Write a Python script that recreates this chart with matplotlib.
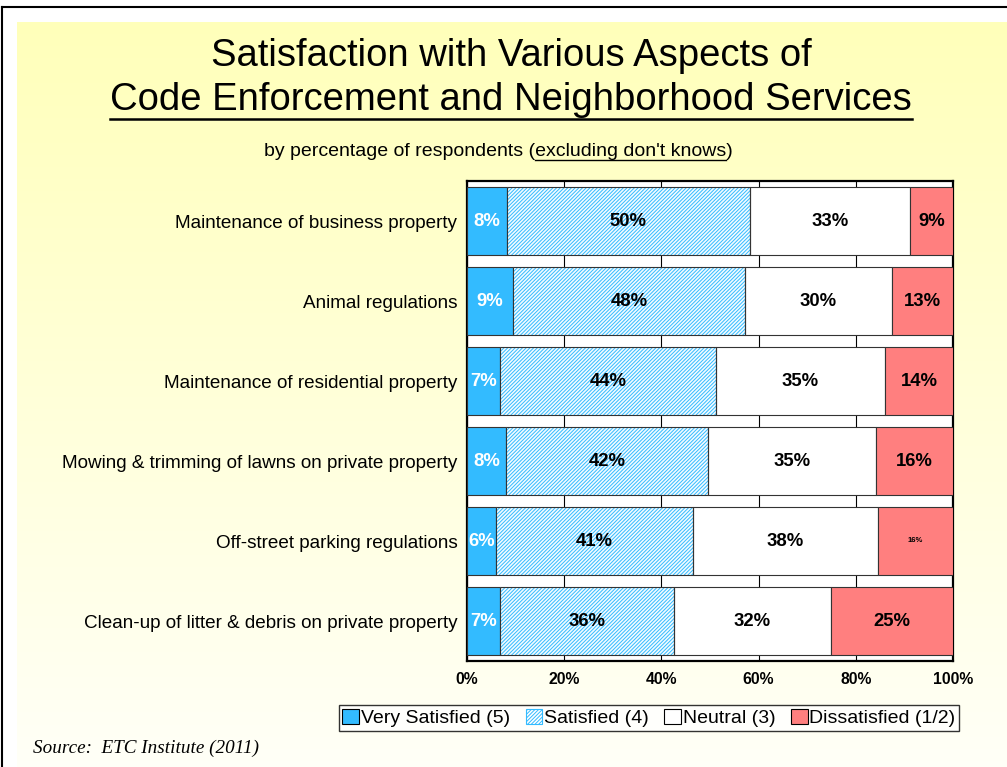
import numpy as np
import matplotlib.pyplot as plt
from matplotlib.patches import Patch
from matplotlib.lines import Line2D

plt.rcParams['font.family'] = ['Liberation Sans', 'DejaVu Sans']
plt.rcParams['hatch.linewidth'] = 0.7

categories = [
    "Maintenance of business property",
    "Animal regulations",
    "Maintenance of residential property",
    "Mowing & trimming of lawns on private property",
    "Off-street parking regulations",
    "Clean-up of litter & debris on private property",
]
very_satisfied = [8.2, 9.5, 6.8, 8.0, 6.0, 6.8]
satisfied = [50.0, 47.7, 44.4, 41.6, 40.5, 35.8]
neutral = [33.0, 30.2, 34.8, 34.6, 38.1, 32.3]
dissatisfied = [8.8, 12.6, 14.0, 15.8, 15.4, 25.1]
labels = [
    ["8%", "50%", "33%", "9%"],
    ["9%", "48%", "30%", "13%"],
    ["7%", "44%", "35%", "14%"],
    ["8%", "42%", "35%", "16%"],
    ["6%", "41%", "38%", "16%"],
    ["7%", "36%", "32%", "25%"],
]
series_names = ["Very Satisfied (5)", "Satisfied (4)", "Neutral (3)", "Dissatisfied (1/2)"]
xticks = [0, 20, 40, 60, 80, 100]

blue = "#33bbff"
pink = "#ff7f7f"

W, H = 1007, 767
fig = plt.figure(figsize=(W / 100, H / 100), dpi=100)
fig.patch.set_facecolor("white")

# background gradient panel and outer frame
bg = fig.add_axes([17 / W, 0, 1 - 17 / W, 1 - 22 / H], zorder=-10)
grad = np.linspace(0, 1, 256).reshape(-1, 1)
top = np.array([1.0, 1.0, 0.73])
bot = np.array([1.0, 1.0, 0.97])
img = top * (1 - grad[..., None]) + bot * grad[..., None]
bg.imshow(img, aspect="auto", extent=[0, 1, 0, 1])
bg.set_axis_off()
fig.add_artist(Line2D([2 / W, 2 / W], [0, 1 - 7 / H], color="black", lw=1.5))
fig.add_artist(Line2D([2 / W, 1], [1 - 7 / H, 1 - 7 / H], color="black", lw=1.5))

ax = fig.add_axes([467 / W, 1 - 661 / H, 486 / W, 480 / H])
ax.set_facecolor("white")
y = np.arange(len(categories))
h = 0.84

vs = np.array(very_satisfied)
sa = np.array(satisfied)
ne = np.array(neutral)
di = np.array(dissatisfied)

ax.barh(y, vs, height=h, color=blue, edgecolor="#333333", lw=0.8, zorder=3)
ax.barh(y, sa, left=vs, height=h, color="#f2fbff", edgecolor=blue, hatch="/////////", lw=0, zorder=3)
ax.barh(y, sa, left=vs, height=h, fill=False, edgecolor="#333333", lw=0.8, zorder=4)
ax.barh(y, ne, left=vs + sa, height=h, color="white", edgecolor="#333333", lw=0.8, zorder=3)
ax.barh(y, di, left=vs + sa + ne, height=h, color=pink, edgecolor="#333333", lw=0.8, zorder=3)

lefts = [np.zeros(len(y)), vs, vs + sa, vs + sa + ne]
widths = [vs, sa, ne, di]
for i in range(len(y)):
    for j in range(4):
        cx = lefts[j][i] + widths[j][i] / 2
        col = "white" if j == 0 else "black"
        fs = 13.3
        if i == 4 and j == 3:
            fs = 5.5
        ax.text(cx, y[i], labels[i][j], ha="center", va="center", color=col,
                fontsize=fs, fontweight="bold", zorder=5)

ax.set_xlim(0, 100)
ax.set_ylim(len(y) - 0.5, -0.5)
ax.set_xticks(xticks)
ax.set_xticklabels([f"{t}%" for t in xticks], fontweight="bold", fontsize=11.3)
ax.set_yticks(y)
ax.set_yticklabels(categories, fontsize=13.6)
ax.tick_params(axis="y", length=0, pad=7)
ax.tick_params(axis="x", length=0, pad=8)
ax.grid(axis="x", color="black", lw=0.8, zorder=0)
for s in ax.spines.values():
    s.set_color("black")
    s.set_linewidth(1.6)

# titles
t1 = fig.text(511 / W, 1 - 56 / H, "Satisfaction with Various Aspects of",
              ha="center", va="center", fontsize=27.5)
t2 = fig.text(511 / W, 1 - 100 / H, "Code Enforcement and Neighborhood Services",
              ha="center", va="center", fontsize=27.5)
sub = "by percentage of respondents (excluding don't knows)"
t3 = fig.text(498 / W, 1 - 152 / H, sub, ha="center", va="center", fontsize=14)

fig.text(33 / W, 1 - 748 / H, "Source:  ETC Institute (2011)", ha="left", va="center",
         fontsize=13.8, style="italic", family="Liberation Serif")

handles = [
    Patch(facecolor=blue, edgecolor="black", lw=0.8),
    Patch(facecolor="white", edgecolor=blue, hatch="/////////", lw=0.8),
    Patch(facecolor="white", edgecolor="black", lw=0.8),
    Patch(facecolor=pink, edgecolor="black", lw=0.8),
]
leg = fig.legend(handles, series_names, loc="center", ncol=4,
                 bbox_to_anchor=(649 / W, 1 - 718 / H), fontsize=14,
                 frameon=True, fancybox=False, edgecolor="black",
                 handlelength=0.85, handleheight=0.85, handletextpad=0.1,
                 columnspacing=0.8, borderpad=0.2, borderaxespad=0)
leg.get_frame().set_linewidth(1.0)

# underlines
fig.canvas.draw()
r = fig.canvas.get_renderer()
bb = t2.get_window_extent(r)
yl = (bb.y0 - 1) / H
fig.add_artist(Line2D([bb.x0 / W, bb.x1 / W], [yl, yl], color="black", lw=1.8))

bb3 = t3.get_window_extent(r)
tmp = fig.text(0, 0, "by percentage of respondents (", fontsize=14)
pw = tmp.get_window_extent(r).width
tmp.set_text("excluding don't knows")
sw = tmp.get_window_extent(r).width
tmp.remove()
yl3 = (bb3.y0 + 1) / H
fig.add_artist(Line2D([(bb3.x0 + pw) / W, (bb3.x0 + pw + sw) / W], [yl3, yl3],
                      color="black", lw=1.0))

fig.savefig("out.png", dpi=100)
